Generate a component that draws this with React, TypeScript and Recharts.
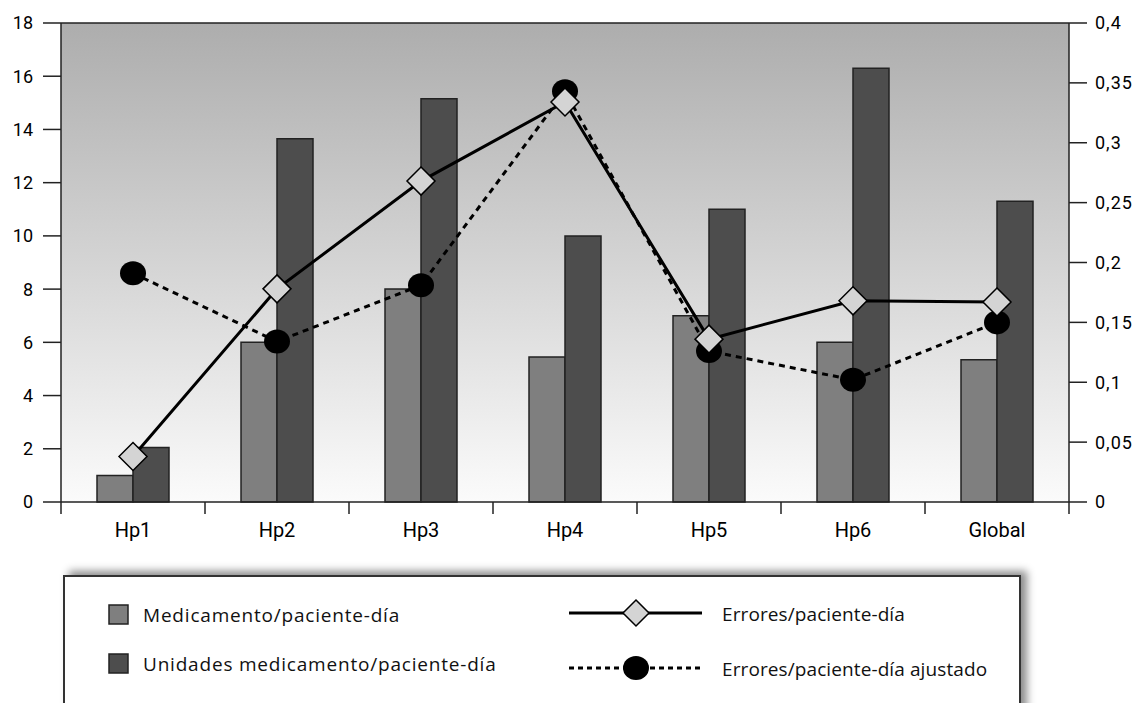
import React from "react";
import { ComposedChart, Bar, Line, XAxis, YAxis, CartesianGrid, ReferenceLine } from "recharts";

const categories = ["Hp1", "Hp2", "Hp3", "Hp4", "Hp5", "Hp6", "Global"];
const medicamento = [1, 6, 8, 5.45, 7, 6, 5.35];
const unidades = [2.05, 13.65, 15.15, 10, 11, 16.3, 11.3];
const errores = [0.038, 0.178, 0.268, 0.334, 0.136, 0.168, 0.167];
const erroresAjustado = [0.191, 0.134, 0.181, 0.343, 0.126, 0.102, 0.15];

const leftTicks = [0, 2, 4, 6, 8, 10, 12, 14, 16, 18];
const rightTicks = [0, 0.05, 0.1, 0.15, 0.2, 0.25, 0.3, 0.35, 0.4];

const labels = {
  med: "Medicamento/paciente-día",
  uni: "Unidades medicamento/paciente-día",
  err: "Errores/paciente-día",
  adj: "Errores/paciente-día ajustado",
};

const data = categories.map((name, i) => ({
  name,
  med: medicamento[i],
  uni: unidades[i],
  err: errores[i],
  adj: erroresAjustado[i],
}));

const W = 1138;
const H = 703;
const LEFT_W = 61;
const RIGHT_W = 69;
const BAND = (W - LEFT_W - RIGHT_W) / categories.length;
const TICK_OFF = 19;
const axisFont = { fill: "#000", fontSize: 18, fontFamily: "Roboto" };

const Diamond = ({ cx, cy, r = 14 }: any) => (
  <polygon
    points={`${cx},${cy - r} ${cx + r},${cy} ${cx},${cy + r} ${cx - r},${cy}`}
    fill="#d4d4d4"
    stroke="#000"
    strokeWidth={1.5}
  />
);

const Blob = ({ cx, cy }: any) => <ellipse cx={cx} cy={cy} rx={13} ry={12} fill="#000" />;

const commaFmt = (v: number) => String(v).replace(".", ",");

// category label plus tick marks on the category boundaries
const CatTick = ({ x, y, payload, index }: any) => {
  const top = y - TICK_OFF;
  const last = index === categories.length - 1;
  return (
    <g>
      <line x1={x - BAND / 2} y1={top} x2={x - BAND / 2} y2={top + 12} stroke="#222" strokeWidth={1.5} />
      {last && <line x1={x + BAND / 2} y1={top} x2={x + BAND / 2} y2={top + 12} stroke="#222" strokeWidth={1.5} />}
      <text x={x} y={y} dy="0.8em" textAnchor="middle" fill="#000" fontSize={20} fontFamily="Roboto">
        {payload.value}
      </text>
    </g>
  );
};

function LegendBox() {
  const font = { fontFamily: "Open Sans", fontSize: 19, fill: "#111" };
  return (
    <div
      style={{
        position: "absolute",
        left: 63,
        top: 575,
        width: 958,
        height: 150,
        boxSizing: "border-box",
        border: "2px solid #333",
        background: "#fff",
        boxShadow: "6px -4px 8px rgba(0,0,0,0.45)",
      }}
    >
      <svg width={954} height={146} style={{ position: "absolute", left: 0, top: 0 }}>
        <rect x={44} y={28} width={19} height={19} fill="#7f7f7f" stroke="#222" strokeWidth={1.5} />
        <text x={78} y={45} letterSpacing={0.8} {...font}>{labels.med}</text>
        <rect x={44} y={77} width={19} height={19} fill="#4d4d4d" stroke="#222" strokeWidth={1.5} />
        <text x={78} y={94} letterSpacing={0.8} {...font}>{labels.uni}</text>

        <line x1={504} y1={36} x2={637} y2={36} stroke="#000" strokeWidth={3} />
        <Diamond cx={571} cy={36} r={13} />
        <text x={657} y={44} letterSpacing={0.1} {...font}>{labels.err}</text>

        <line x1={504} y1={91} x2={637} y2={91} stroke="#000" strokeWidth={3} strokeDasharray="5 4" />
        <Blob cx={571} cy={91} />
        <text x={657} y={99} letterSpacing={0.1} {...font}>{labels.adj}</text>
      </svg>
    </div>
  );
}

export default function App() {
  return (
    <div style={{ position: "absolute", left: 0, top: 0, width: W, height: H, overflow: "hidden", background: "#fff" }}>
      <ComposedChart
        width={W}
        height={H}
        data={data}
        margin={{ top: 23, right: 0, left: 0, bottom: 161 }}
        barCategoryGap="25%"
        barGap={0}
      >
        <defs>
          <linearGradient id="plotBg" x1="0" y1="0" x2="0" y2="1">
            <stop offset="0" stopColor="#adadad" />
            <stop offset="1" stopColor="#fbfbfb" />
          </linearGradient>
        </defs>
        <CartesianGrid horizontal={false} vertical={false} fill="url(#plotBg)" />
        <XAxis
          xAxisId="cat"
          dataKey="name"
          height={40}
          tickLine={false}
          stroke="#222"
          strokeWidth={1.5}
          tickSize={0}
          tickMargin={TICK_OFF}
          tick={<CatTick />}
          interval={0}
        />
        <YAxis
          yAxisId="left"
          domain={[0, 18]}
          ticks={leftTicks}
          width={LEFT_W}
          tickSize={18}
          tickMargin={10}
          stroke="#222"
          strokeWidth={1.5}
          tick={axisFont}
        />
        <YAxis
          yAxisId="right"
          orientation="right"
          domain={[0, 0.4]}
          ticks={rightTicks}
          width={RIGHT_W}
          tickSize={18}
          tickMargin={8}
          stroke="#222"
          strokeWidth={1.5}
          tick={{ ...axisFont, letterSpacing: 1 }}
          tickFormatter={commaFmt}
        />
        <ReferenceLine yAxisId="left" xAxisId="cat" y={18} stroke="#222" strokeWidth={1.5} />
        <Bar
          dataKey="med"
          name={labels.med}
          xAxisId="cat"
          yAxisId="left"
          fill="#7f7f7f"
          stroke="#222"
          strokeWidth={1.5}
          isAnimationActive={false}
        />
        <Bar
          dataKey="uni"
          name={labels.uni}
          xAxisId="cat"
          yAxisId="left"
          fill="#4d4d4d"
          stroke="#222"
          strokeWidth={1.5}
          isAnimationActive={false}
        />
        <Line
          dataKey="adj"
          name={labels.adj}
          xAxisId="cat"
          yAxisId="right"
          stroke="#000"
          strokeWidth={3}
          strokeDasharray="6 5"
          dot={(p: any) => <Blob key={p.index} cx={p.cx} cy={p.cy} />}
          activeDot={false}
          isAnimationActive={false}
        />
        <Line
          dataKey="err"
          name={labels.err}
          xAxisId="cat"
          yAxisId="right"
          stroke="#000"
          strokeWidth={3}
          dot={(p: any) => <Diamond key={p.index} cx={p.cx} cy={p.cy} />}
          activeDot={false}
          isAnimationActive={false}
        />
      </ComposedChart>
      <LegendBox />
    </div>
  );
}
